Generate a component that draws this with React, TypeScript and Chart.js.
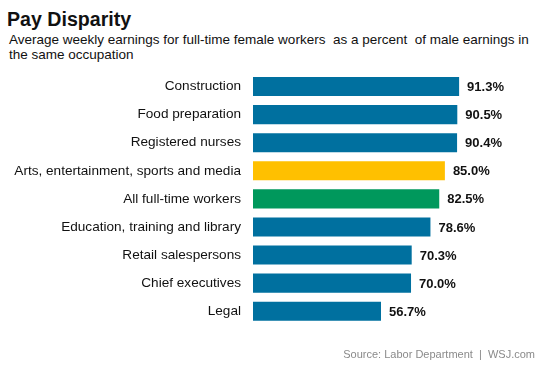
import React, { useEffect, useRef } from "react";
import { Chart, registerables } from "chart.js";

Chart.register(...registerables);

const categories = [
  "Construction",
  "Food preparation",
  "Registered nurses",
  "Arts, entertainment, sports and media",
  "All full-time workers",
  "Education, training and library",
  "Retail salespersons",
  "Chief executives",
  "Legal",
];
const values = [91.3, 90.5, 90.4, 85.0, 82.5, 78.6, 70.3, 70.0, 56.7];
const BLUE = "#00709f";
const YELLOW = "#ffc000";
const GREEN = "#00985c";
const barColors = [BLUE, BLUE, BLUE, YELLOW, GREEN, BLUE, BLUE, BLUE, BLUE];

const FONT = "Arial, 'Liberation Sans', sans-serif";

const valueLabels = {
  id: "valueLabels",
  afterDatasetsDraw(chart: any) {
    const ctx = chart.ctx;
    const meta = chart.getDatasetMeta(0);
    ctx.save();
    ctx.font = `bold 13px ${FONT}`;
    ctx.fillStyle = "#111";
    ctx.textAlign = "left";
    ctx.textBaseline = "middle";
    meta.data.forEach((bar: any, i: number) => {
      const v = chart.data.datasets[0].data[i] as number;
      ctx.fillText(v.toFixed(1) + "%", bar.x + 8, bar.y + 1);
    });
    ctx.restore();
  },
};

export default function App() {
  const ref = useRef<HTMLCanvasElement>(null);
  useEffect(() => {
    if (!ref.current) return;
    const chart = new Chart(ref.current, {
      type: "bar",
      data: {
        labels: categories,
        datasets: [
          {
            data: values,
            backgroundColor: barColors,
            borderWidth: 0,
            barPercentage: 0.68,
            categoryPercentage: 1,
          },
        ],
      },
      options: {
        indexAxis: "y",
        animation: false,
        responsive: false,
        maintainAspectRatio: false,
        layout: { padding: { left: 0, right: 74.25, top: 72.45, bottom: 369 - 325.3 } },
        plugins: {
          legend: { display: false },
          tooltip: { enabled: false },
          title: { display: false },
        },
        scales: {
          x: { display: false, min: 0, max: 100 },
          y: {
            afterFit: (scale: any) => {
              scale.width = 253;
            },
            grid: { display: false, drawTicks: false },
            border: { display: false },
            ticks: {
              padding: 12,
              color: "#111",
              font: { family: FONT, size: 13.6 },
            },
          },
        },
      },
      plugins: [valueLabels],
    });
    return () => chart.destroy();
  }, []);

  return (
    <div
      style={{
        position: "absolute",
        left: 0,
        top: 0,
        width: 553,
        height: 369,
        background: "#fff",
        fontFamily: FONT,
        color: "#111",
      }}
    >
      <div
        style={{
          position: "absolute",
          left: 7,
          top: 10,
          fontSize: 19.6,
          lineHeight: "19px",
          fontWeight: "bold",
          whiteSpace: "nowrap",
        }}
      >
        Pay Disparity
      </div>
      <div
        style={{
          position: "absolute",
          left: 9,
          top: 32,
          fontSize: 13.5,
          lineHeight: "15px",
          whiteSpace: "pre",
        }}
      >
        {"Average weekly earnings for full-time female workers  as a percent  of male earnings in\nthe same occupation"}
      </div>
      <canvas ref={ref} width={553} height={369} style={{ position: "absolute", left: 0, top: 0 }} />
      <div
        style={{
          position: "absolute",
          right: 18,
          top: 347,
          fontSize: 11,
          lineHeight: "14px",
          color: "#8a8a8a",
          whiteSpace: "pre",
        }}
      >
        {"Source: Labor Department  |  WSJ.com"}
      </div>
    </div>
  );
}
